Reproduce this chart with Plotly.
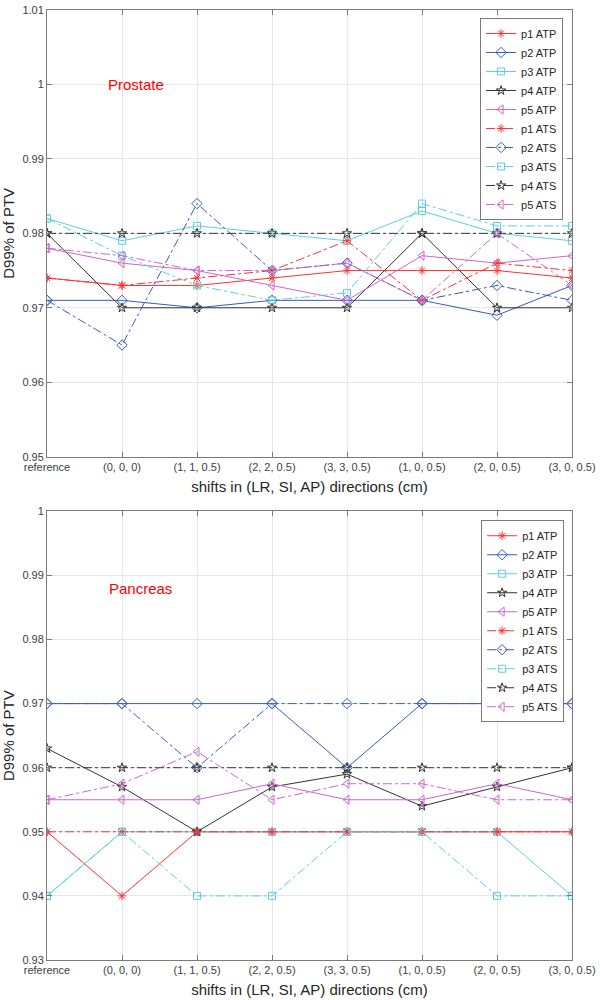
import plotly.graph_objects as go

categories = ["reference", "(0, 0, 0)", "(1, 1, 0.5)", "(2, 2, 0.5)", "(3, 3, 0.5)",
              "(1, 0, 0.5)", "(2, 0, 0.5)", "(3, 0, 0.5)"]

# Prostate
pro_p1_atp = [0.974, 0.973, 0.973, 0.974, 0.975, 0.975, 0.975, 0.974]
pro_p2_atp = [0.971, 0.971, 0.970, 0.971, 0.971, 0.971, 0.969, 0.973]
pro_p3_atp = [0.982, 0.979, 0.981, 0.980, 0.979, 0.983, 0.980, 0.979]
pro_p4_atp = [0.980, 0.970, 0.970, 0.970, 0.970, 0.980, 0.970, 0.970]
pro_p5_atp = [0.978, 0.976, 0.975, 0.973, 0.971, 0.977, 0.976, 0.977]
pro_p1_ats = [0.974, 0.973, 0.974, 0.975, 0.979, 0.971, 0.976, 0.975]
pro_p2_ats = [0.971, 0.965, 0.984, 0.975, 0.976, 0.971, 0.973, 0.971]
pro_p3_ats = [0.982, 0.977, 0.973, 0.971, 0.972, 0.984, 0.981, 0.981]
pro_p4_ats = [0.980, 0.980, 0.980, 0.980, 0.980, 0.980, 0.980, 0.980]
pro_p5_ats = [0.978, 0.977, 0.975, 0.975, 0.976, 0.971, 0.980, 0.973]

# Pancreas
pan_p1_atp = [0.950, 0.940, 0.950, 0.950, 0.950, 0.950, 0.950, 0.950]
pan_p2_atp = [0.970, 0.970, 0.970, 0.970, 0.960, 0.970, 0.970, 0.970]
pan_p3_atp = [0.940, 0.950, 0.950, 0.950, 0.950, 0.950, 0.950, 0.940]
pan_p4_atp = [0.963, 0.957, 0.950, 0.957, 0.959, 0.954, 0.957, 0.960]
pan_p5_atp = [0.955, 0.955, 0.955, 0.9575, 0.955, 0.955, 0.9575, 0.955]
pan_p1_ats = [0.950, 0.950, 0.950, 0.950, 0.950, 0.950, 0.950, 0.950]
pan_p2_ats = [0.970, 0.970, 0.960, 0.970, 0.970, 0.970, 0.970, 0.970]
pan_p3_ats = [0.940, 0.950, 0.940, 0.940, 0.950, 0.950, 0.940, 0.940]
pan_p4_ats = [0.960, 0.960, 0.960, 0.960, 0.960, 0.960, 0.960, 0.960]
pan_p5_ats = [0.955, 0.9575, 0.9625, 0.955, 0.9575, 0.9575, 0.955, 0.955]

names = ["p1 ATP", "p2 ATP", "p3 ATP", "p4 ATP", "p5 ATP",
         "p1 ATS", "p2 ATS", "p3 ATS", "p4 ATS", "p5 ATS"]
colors = ["#ff3030", "#3a5bbf", "#5ccfdf", "#333333", "#cc66cc"]
symbols = ["asterisk-open", "diamond-open", "square-open", "star-open", "triangle-left-open"]
sizes = [7, 8, 7, 7, 8]

pro_series = [pro_p1_atp, pro_p2_atp, pro_p3_atp, pro_p4_atp, pro_p5_atp,
              pro_p1_ats, pro_p2_ats, pro_p3_ats, pro_p4_ats, pro_p5_ats]
pan_series = [pan_p1_atp, pan_p2_atp, pan_p3_atp, pan_p4_atp, pan_p5_atp,
              pan_p1_ats, pan_p2_ats, pan_p3_ats, pan_p4_ats, pan_p5_ats]

fig = go.Figure()

def add(series, xa, ya, leg):
    for i, (nm, ys) in enumerate(zip(names, series)):
        k = i % 5
        fig.add_trace(go.Scatter(
            x=categories, y=ys, name=nm, mode="lines+markers",
            xaxis=xa, yaxis=ya, legend=leg,
            line=dict(color=colors[k], width=1, dash="solid" if i < 5 else "dashdot"),
            marker=dict(symbol=symbols[k], size=sizes[k],
                        color=colors[k], line=dict(color=colors[k], width=1)),
        ))

add(pro_series, "x", "y", "legend")
add(pan_series, "x2", "y2", "legend2")

axis_common = dict(
    showline=True, linecolor="#7a7a7a", linewidth=1, mirror="allticks",
    ticks="inside", ticklen=5, tickcolor="#7a7a7a",
    showgrid=True, gridcolor="#e6e6e6", gridwidth=1, zeroline=False,
    tickfont=dict(family="Liberation Sans, Arial", size=11, color="#404040"),
)

fig.update_layout(
    width=600, height=1000,
    margin=dict(l=45, r=25, t=4, b=39),
    plot_bgcolor="white", paper_bgcolor="white",
    font=dict(family="Liberation Sans, Arial", color="#262626"),
    xaxis=dict(axis_common, domain=[0, 1], anchor="y", type="category", range=[0, 7],
               title=dict(text="shifts in (LR, SI, AP) directions (cm)", font=dict(size=15), standoff=9)),
    yaxis=dict(axis_common, domain=[0.5298, 1], anchor="x", range=[0.95, 1.01], dtick=0.01,
               tickformat="~g",
               title=dict(text="D99% of PTV", font=dict(size=15), standoff=8)),
    xaxis2=dict(axis_common, domain=[0, 1], anchor="y2", type="category", range=[0, 7],
                title=dict(text="shifts in (LR, SI, AP) directions (cm)", font=dict(size=15), standoff=9)),
    yaxis2=dict(axis_common, domain=[0, 0.4723], anchor="x2", range=[0.93, 1.0], dtick=0.01,
                tickformat="~g",
                title=dict(text="D99% of PTV", font=dict(size=15), standoff=8)),
    legend=dict(x=0.983, y=0.9916, xanchor="right", yanchor="top",
                bgcolor="white", bordercolor="#7a7a7a", borderwidth=1,
                font=dict(size=11, color="#262626"), tracegroupgap=0),
    legend2=dict(x=0.985, y=0.4629, xanchor="right", yanchor="top",
                 bgcolor="white", bordercolor="#7a7a7a", borderwidth=1,
                 font=dict(size=11, color="#262626"), tracegroupgap=0),
    annotations=[
        dict(text="Prostate", x=1.19, y=1.0, xref="x", yref="y", showarrow=False,
             font=dict(size=15, color="#ff0000")),
        dict(text="Pancreas", x=1.24, y=0.988, xref="x2", yref="y2", showarrow=False,
             font=dict(size=15, color="#ff0000")),
    ],
)

fig.write_html("out.html")
